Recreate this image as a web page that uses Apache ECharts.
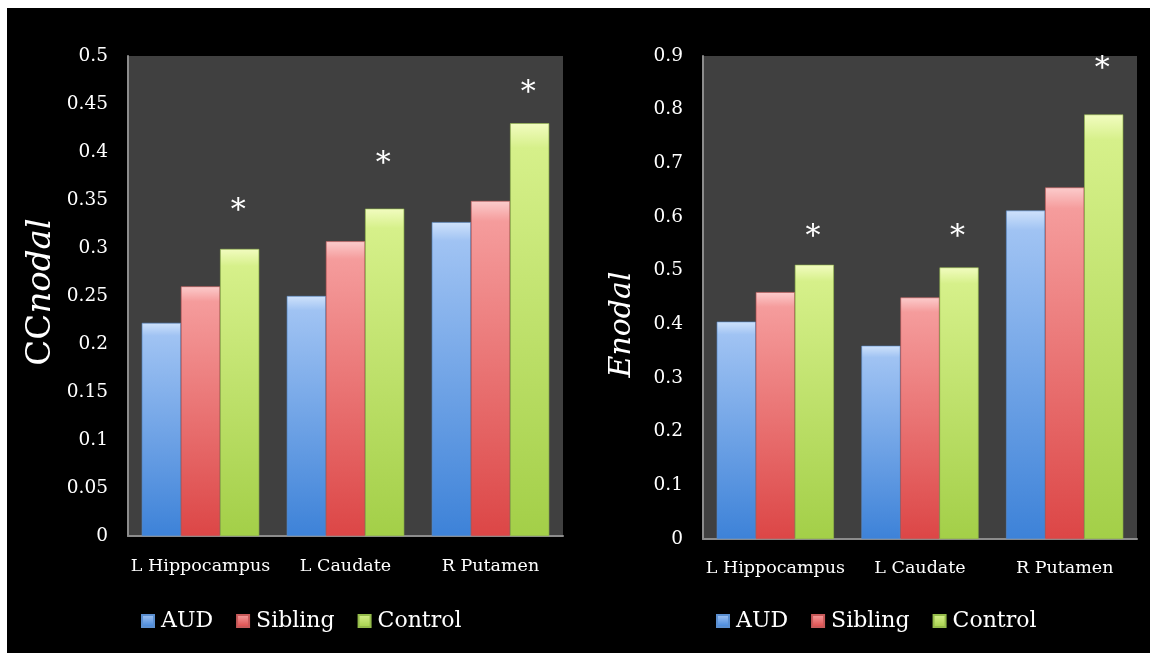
<!DOCTYPE html>
<html>
<head>
<meta charset="utf-8">
<script src="https://cdn.jsdelivr.net/npm/echarts@6/dist/echarts.min.js"></script>
<style>
html,body{margin:0;padding:0;background:#ffffff;width:1150px;height:653px;overflow:hidden;}
#c{position:absolute;left:7px;top:8px;width:1143px;height:645px;background:#000;}
</style>
</head>
<body>
<div id="c"></div>
<script>
const categories = ['L Hippocampus', 'L Caudate', 'R Putamen'];
const seriesNames = ['AUD', 'Sibling', 'Control'];
// CCnodal panel
const ccAUD = [0.222, 0.250, 0.327];
const ccSibling = [0.260, 0.307, 0.349];
const ccControl = [0.299, 0.341, 0.430];
const ccStars = [0.346, 0.395, 0.469];
// Enodal panel
const enAUD = [0.405, 0.360, 0.612];
const enSibling = [0.460, 0.450, 0.655];
const enControl = [0.511, 0.506, 0.791];
const enStars = [0.576, 0.576, 0.889];

const FONT = 'DejaVu Serif';

function grad(top, mid, bottom) {
  return new echarts.graphic.LinearGradient(0, 0, 0, 1, [
    {offset: 0, color: top},
    {offset: 0.06, color: mid},
    {offset: 1, color: bottom}
  ]);
}
const fills = {
  AUD: grad('#cfe2fb', '#a0c3f3', '#3d82d8'),
  Sibling: grad('#fccccc', '#f59c9c', '#dc4646'),
  Control: grad('#f2fcc0', '#d6f08a', '#a3cf48')
};
const borders = {AUD: '#5b8fd0', Sibling: '#c85a5a', Control: '#94bb4a'};

function bars(name, data, idx) {
  return {
    name: name, type: 'bar', xAxisIndex: idx, yAxisIndex: idx,
    data: data, barWidth: '27%', barGap: '0%',
    itemStyle: {color: fills[name], borderColor: borders[name], borderWidth: 0.6},
    emphasis: {disabled: true}
  };
}
function stars(data, idx) {
  return {
    type: 'custom', xAxisIndex: idx, yAxisIndex: idx, silent: true,
    data: data.map((v, i) => [i, v]),
    renderItem: function (params, api) {
      const p = api.coord([api.value(0), api.value(1)]);
      const band = api.size([1, 0])[0];
      return {
        type: 'text',
        style: {
          x: p[0] + band * 0.26, y: p[1] + 7,
          text: '*', fill: '#ffffff', font: '30px "DejaVu Serif"',
          align: 'center', verticalAlign: 'middle'
        }
      };
    },
    z: 10
  };
}

function xAxis(idx, margin) {
  return {
    type: 'category', gridIndex: idx, data: categories,
    axisLine: {show: true, lineStyle: {color: '#8c8c8c', width: 2}},
    axisTick: {show: false},
    axisLabel: {color: '#ffffff', fontFamily: FONT, fontSize: 17.5, margin: margin, interval: 0},
    splitLine: {show: false}
  };
}
function yAxis(idx, max, interval, name, pad, gap, nameSize) {
  return {
    type: 'value', gridIndex: idx, min: 0, max: max, interval: interval,
    axisLine: {show: true, lineStyle: {color: '#8c8c8c', width: 2}},
    axisTick: {show: false},
    splitLine: {show: false},
    axisLabel: {color: '#ffffff', fontFamily: FONT, fontSize: 18.5, margin: 20,
      formatter: v => String(+v.toFixed(2))},
    name: name, nameLocation: 'middle', nameGap: gap, nameRotate: 90,
    nameTextStyle: {
      color: '#ffffff', fontFamily: FONT, fontSize: nameSize, padding: pad,
      rich: {
        up: {color: '#ffffff', fontFamily: FONT, fontSize: nameSize},
        it: {color: '#ffffff', fontFamily: FONT, fontSize: nameSize, fontStyle: 'italic'}
      }
    }
  };
}
function legend(left) {
  return {
    data: seriesNames, left: left, top: 597, orient: 'horizontal',
    itemWidth: 12, itemHeight: 12, itemGap: 23, icon: 'rect',
    textStyle: {color: '#ffffff', fontFamily: FONT, fontSize: 22, padding: [0, 0, 0, 2]},
    selectedMode: false
  };
}

const chart = echarts.init(document.getElementById('c'), null, {renderer: 'canvas'});
chart.setOption({
  backgroundColor: '#000000',
  animation: false,
  grid: [
    {left: 121, top: 48, width: 435, height: 480, backgroundColor: '#404040', show: true, borderWidth: 0},
    {left: 696, top: 48, width: 434, height: 483, backgroundColor: '#404040', show: true, borderWidth: 0}
  ],
  legend: [legend(129), legend(704)],
  xAxis: [xAxis(0, 21), xAxis(1, 20)],
  yAxis: [
    yAxis(0, 0.5, 0.05, '{up|CC}{it|nodal}', [0, 0, 0, 8], 70, 34),
    yAxis(1, 0.9, 0.1, '{it|Enodal}', [0, 54, 0, 0], 66, 30)
  ],
  series: [
    bars('AUD', ccAUD, 0), bars('Sibling', ccSibling, 0), bars('Control', ccControl, 0),
    bars('AUD', enAUD, 1), bars('Sibling', enSibling, 1), bars('Control', enControl, 1),
    stars(ccStars, 0), stars(enStars, 1)
  ]
});
</script>
</body>
</html>
